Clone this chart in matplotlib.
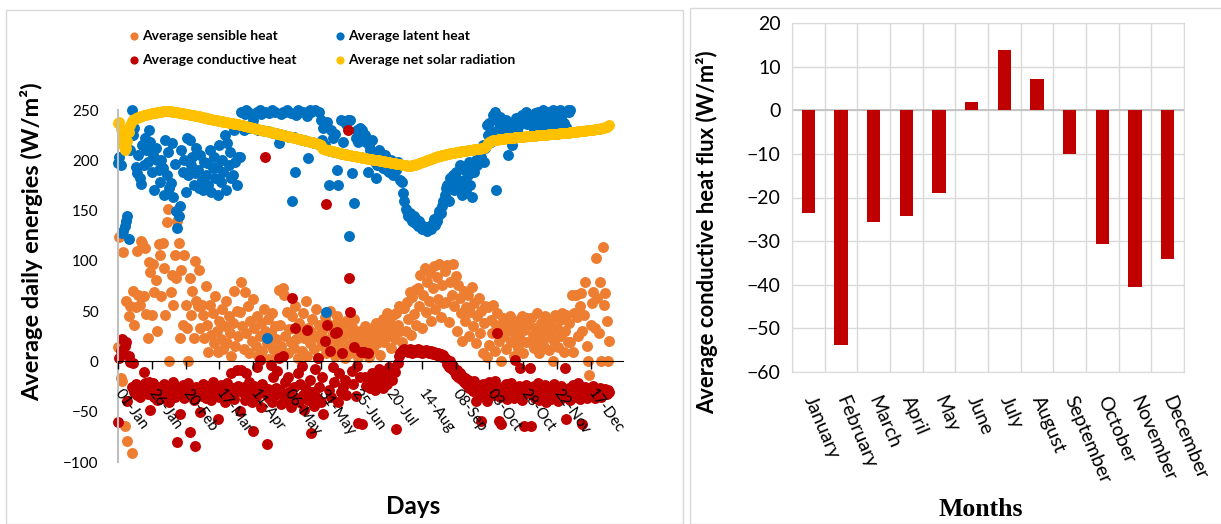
import matplotlib
matplotlib.use('Agg')
import matplotlib.pyplot as plt
from matplotlib.patches import Rectangle
import numpy as np

SANS = ['Lato', 'DejaVu Sans']
SERIF = ['Liberation Serif', 'DejaVu Serif']

ORANGE = '#ED7D31'
BLUE = '#0070C0'
RED = '#C00000'
YELLOW = '#FFC000'

# daily values (W/m2), one row per month, Jan..Dec
SENSIBLE = [
    14, 124, -16, -19, 109, -64, 60, -79, 45, 55, -91, 70, 36, 54, 110, 66, 56, 120, 118, 65, 113, 47, 23, 99, 89, 46, 97, 69, 81, 30, 117,
    106, 65, 118, 93, 46, 139, 152, 0, 69, 86, 56, 106, 83, 140, 118, 23, 91, 36, 106, 56, 33, 0, 83, 46, 70, 23, 100, 60,
    55, 91, 33, 56, 46, 23, 75, 36, 9, 56, 26, 48, 18, 65, 30, 9, 40, 22, 52, 12, 35, 60, 18, 45, 28, 5, 38, 70, 15, 50, 25,
    49, 79, 35, 12, 69, 28, 55, 8, 40, 20, 62, 33, 15, 45, 5, 25, 38, 10, 52, 30, 18, 42, 2, 28, 48, 12, 35, 22, 6, 71,
    36, 15, 73, 66, 25, 49, 8, 32, 19, 45, 13, 55, 22, 3, 38, 28, 10, 48, 23, 60, 5, 33, 18, 29, 42, 12, 25, 52, 3, 36, 20,
    30, 15, 44, 8, 38, 22, 50, 12, 28, 36, 5, 45, 18, 30, 10, 36, 24, 3, 40, 15, 28, 8, 34, 20, 42, 12, 26, 4, 30, 18,
    26, 8, 35, 15, 28, 4, 20, 33, 12, 24, 38, 18, 30, 6, 28, 42, 19, 35, 48, 25, 40, 13, 31, 46, 22, 48, 36, 55, 30, 19, 53,
    53, 30, 59, 42, 69, 26, 64, 47, 71, 36, 73, 55, 86, 33, 66, 93, 49, 79, 60, 88, 40, 73, 95, 52, 84, 62, 97, 44, 76, 58, 90,
    59, 96, 39, 79, 66, 97, 55, 85, 30, 76, 63, 48, 20, 70, 40, 54, 66, 25, 49, 74, 35, 58, 18, 45, 63, 28, 50, 8, 38, 55,
    4, 54, 16, 41, 28, 56, 10, 36, 48, 20, 33, 0, 43, 25, 12, 38, 30, 45, 19, 33, 5, 27, 40, 13, 36, 22, 45, 8, 31, 19, 43,
    36, 19, 43, 26, 13, 33, 48, 22, 8, 38, 29, 16, 45, 24, 35, 11, 40, 28, 0, 20, 46, 33, 14, 41, 25, 48, 9, 30, 46, 19,
    38, 19, 66, 9, 48, 66, 44, 25, 55, 68, 30, 46, 79, 15, 0, -13, 36, 58, 69, 33, 103, 63, 28, 79, 0, 114, 56, 68, 40, 0, 20,
]

LATENT = [
    197, 203, 195, 128, 130, 135, 140, 145, 122, 210, 250, 225, 232, 193, 187, 205, 182, 176, 215, 195, 222, 210, 198, 230, 218, 188, 205, 170, 212, 200, 190,
    178, 200, 192, 165, 220, 185, 208, 172, 177, 217, 163, 196, 150, 133, 145, 155, 210, 188, 200, 168, 222, 185, 220, 195, 203, 175, 187, 212,
    190, 172, 205, 180, 170, 198, 185, 197, 175, 210, 168, 192, 203, 182, 193, 165, 215, 178, 200, 188, 225, 170, 217, 195, 208, 182, 185, 230, 198, 175, 203,
    203, 248, 235, 230, 246, 250, 248, 233, 232, 245, 240, 233, 231, 248, 230, 250, 246, 230, 229, 248, 23, 229, 247, 228, 250, 227, 248, 227, 226, 217,
    226, 246, 248, 225, 248, 250, 224, 223, 247, 160, 223, 188, 245, 250, 221, 248, 220, 248, 220, 219, 244, 202, 250, 248, 218, 217, 250, 217, 216, 248, 240,
    220, 232, 215, 49, 238, 175, 209, 230, 222, 208, 226, 190, 175, 207, 240, 206, 218, 206, 236, 240, 125, 240, 187, 204, 158, 222, 230, 218, 232, 203,
    230, 222, 225, 218, 188, 215, 210, 220, 205, 198, 182, 195, 210, 208, 200, 192, 198, 205, 190, 195, 188, 200, 193, 185, 195, 190, 198, 195, 180, 178, 167,
    160, 152, 150, 145, 148, 143, 140, 145, 138, 142, 135, 140, 137, 132, 135, 132, 134, 130, 133, 135, 132, 138, 142, 136, 140, 145, 150, 148, 155, 160, 165,
    172, 175, 160, 182, 178, 185, 170, 188, 180, 175, 195, 168, 165, 180, 190, 170, 185, 198, 175, 163, 192, 188, 200, 195, 205, 210, 203, 215, 198, 212,
    235, 225, 237, 218, 228, 245, 248, 170, 240, 232, 243, 238, 228, 230, 240, 235, 205, 225, 232, 215, 230, 237, 242, 233, 225, 243, 245, 238, 240, 248, 236,
    240, 245, 238, 243, 230, 247, 236, 248, 240, 233, 244, 250, 238, 242, 235, 248, 230, 240, 250, 236, 228, 245, 238, 250, 241, 232, 237, 248, 233, 250,
    248, 250,
]

CONDUCTIVE = [
    -60, 3, 10, 22, 9, 15, 19, -39, 5, -1, -25, -2, -30, -22, -33, -28, -35, -24, -30, -11, -21, -27, -32, -20, -48, -30, -21, -35, -26, -38, -29,
    -25, -33, -28, -22, -37, -30, -24, -40, -27, -32, -20, -35, -29, -80, -26, -52, -31, -23, -36, -28, -33, -21, -70, -30, -27, -38, -84, -25,
    -30, -26, -50, -34, -22, -28, -36, -24, -31, -27, -38, -20, -33, -29, -25, -57, -35, -23, -30, -27, -40, -32, -21, -28, -34, -12, -26, -37, -29, -9, -24,
    -49, -9, -30, -25, -38, -12, -33, -20, -28, -40, -69, -24, -35, -6, -29, 1, -45, -22, -31, 203, -82, -27, -36, -4, -40, -15, -33, -26, -10, 3,
    -28, -42, 5, -35, -20, -38, -15, -30, -45, 63, -25, 33, -36, -12, -40, -22, -5, -33, -48, -27, 31, -38, -18, -71, -30, -44, -8, -35, 3, -25, -40,
    -15, -52, 20, 157, 36, -28, 10, -35, -6, -20, 28, 29, -40, -12, -30, 8, -25, -18, -33, 230, 83, 49, -10, -22, 14, -34, -5, -61, -15, 9,
    -62, 9, -15, -24, 8, -18, -26, -12, -22, -28, -17, -25, -8, -20, -14, -26, -20, -10, -22, -16, -6, -12, -18, -8, -11, -67, -2, 5, 8, 10, 11,
    12, 10, 11, 9, 12, 10, 8, 11, 9, 10, 12, 9, 11, 8, 10, 9, 11, 10, 8, 9, 10, 7, 9, 8, 6, 8, 5, 7, 4, 6, 3,
    2, -3, -6, 0, -8, -5, -10, -13, -9, -15, -12, -17, -14, -20, -16, -22, -18, -26, -21, -24, -29, -19, -39, -25, -28, -33, -59, -22, -30, -26,
    -39, -27, -20, -31, -24, -33, -19, -28, 28, -59, -35, -62, -25, -30, -22, -37, -27, -33, -21, -29, -36, 1, -26, -32, -24, -7, -38, -28, -64, -23, -31,
    -28, -7, -64, -33, -24, -36, -29, -21, -38, -26, -31, -35, -23, -40, -28, -33, -25, -37, -30, -22, -34, -27, -39, -31, -24, -36, -29, -7, -57, -33,
    -26, -38, -30, -23, -35, -28, -33, -21, -37, -29, -62, -32, -25, -36, -29, -34, -27, -31, -24, -36, -30, -28, -33, -26, -35, -29, -31, -27, -32, -28, -30,
]

NET_SOLAR = [
    237, 238, 231, 223, 215, 210, 212, 219, 228, 235, 239, 240, 241, 242, 242, 243, 243, 244, 244, 245, 245, 245, 246, 246, 246, 247, 247, 247, 247, 248, 248,
    248, 248, 249, 249, 249, 249, 249, 249, 249, 248, 248, 248, 248, 248, 247, 247, 247, 247, 246, 246, 246, 246, 245, 245, 245, 245, 244, 244,
    244, 244, 243, 243, 243, 242, 242, 242, 241, 241, 241, 240, 240, 240, 240, 239, 239, 239, 239, 238, 238, 238, 238, 237, 237, 237, 237, 236, 236, 236, 236,
    235, 235, 235, 234, 234, 234, 233, 233, 233, 232, 232, 232, 231, 231, 231, 230, 230, 230, 229, 229, 229, 229, 228, 228, 228, 227, 227, 227, 226, 226,
    226, 225, 225, 225, 224, 224, 224, 223, 223, 223, 222, 222, 222, 221, 221, 221, 220, 220, 220, 219, 219, 219, 218, 218, 218, 217, 217, 217, 216, 216, 215,
    212, 211, 211, 210, 210, 210, 209, 209, 209, 208, 208, 208, 207, 207, 207, 206, 206, 206, 205, 205, 205, 205, 204, 204, 204, 204, 203, 203, 203, 203,
    202, 202, 202, 202, 201, 201, 201, 201, 200, 200, 200, 200, 200, 199, 199, 199, 199, 198, 198, 198, 198, 197, 197, 197, 197, 196, 196, 196, 196, 195, 195,
    195, 195, 194, 194, 194, 194, 195, 195, 195, 196, 196, 197, 197, 198, 198, 199, 199, 200, 200, 201, 201, 202, 202, 203, 203, 204, 204, 204, 205, 205, 205,
    206, 206, 206, 207, 207, 207, 207, 208, 208, 208, 208, 209, 209, 209, 209, 209, 210, 210, 210, 210, 210, 211, 211, 211, 211, 211, 212, 212, 212, 213,
    215, 217, 218, 219, 219, 220, 220, 220, 220, 221, 221, 221, 221, 221, 222, 222, 222, 222, 222, 222, 222, 223, 223, 223, 223, 223, 223, 223, 223, 224, 224,
    224, 224, 224, 224, 224, 224, 225, 225, 225, 225, 225, 225, 225, 225, 225, 226, 226, 226, 226, 226, 226, 226, 226, 227, 227, 227, 227, 227, 227, 227,
    227, 228, 228, 228, 228, 228, 228, 229, 229, 229, 229, 229, 229, 230, 230, 230, 230, 230, 230, 231, 231, 231, 231, 231, 232, 232, 232, 233, 233, 234, 235,
]

DAY_TICKS = [0, 25, 50, 75, 100, 125, 150, 175, 200, 225, 250, 275, 300, 325, 350]
DAY_LABELS = ['01-Jan', '26-Jan', '20-Feb', '17-Mar', '11-Apr', '06-May', '31-May',
              '25-Jun', '20-Jul', '14-Aug', '08-Sep', '03-Oct', '28-Oct', '22-Nov', '17-Dec']

MONTHS = ['January', 'February', 'March', 'April', 'May', 'June', 'July',
          'August', 'September', 'October', 'November', 'December']
MONTHLY_COND = [-23.5, -53.7, -25.7, -24.2, -19.0, 2.0, 13.7, 7.2, -10.1, -30.6, -40.5, -34.0]


def plot_daily(fig, ax):
    # axis through y=0 first: moving the spine resets the tick labels
    for s in ('top', 'right'):
        ax.spines[s].set_visible(False)
    ax.spines['bottom'].set_position(('data', 0))
    ax.spines['bottom'].set_color('black')
    ax.spines['left'].set_color('#bfbfbf')
    ax.spines['left'].set_linewidth(1.5)
    ax.set_axisbelow(False)

    series = [
        ('Average sensible heat', SENSIBLE, ORANGE),
        ('Average latent heat', LATENT, BLUE),
        ('Average conductive heat', CONDUCTIVE, RED),
        ('Average net solar radiation', NET_SOLAR, YELLOW),
    ]
    handles = {}
    for z, (name, vals, col) in enumerate(series):
        days = np.arange(len(vals))
        handles[name] = ax.scatter(days, vals, s=62, color=col, linewidths=0,
                                   zorder=1 + 0.1 * z, clip_on=False, label=name)

    ax.set_xlim(0, 374)
    ax.set_ylim(-100, 250)
    ax.set_yticks(np.arange(-100, 251, 50))
    ax.set_xticks(DAY_TICKS)
    ax.set_xticklabels(DAY_LABELS, rotation=-54, ha='left', va='center',
                       rotation_mode='anchor', fontsize=11, family=SANS)
    ax.tick_params(axis='x', direction='out', length=6, width=1, pad=15)
    ax.tick_params(axis='y', length=0, pad=14, labelsize=11)
    for t in ax.get_yticklabels():
        t.set_family(SANS)

    ax.set_ylabel('Average daily energies (W/m²)', fontsize=16.9, fontweight='bold', family=SANS)
    ax.yaxis.set_label_coords(-0.149, 0.625)
    fig.text(0.338, 0.033, 'Days', fontsize=17.5, fontweight='bold', family=SANS, ha='center', va='center')

    order = ['Average sensible heat', 'Average conductive heat',
             'Average latent heat', 'Average net solar radiation']
    fig.legend([handles[k] for k in order], order, ncol=2, frameon=False,
               loc='upper left', bbox_to_anchor=(0.094, 0.967), markerscale=0.75,
               handlelength=0.9, handletextpad=0.15, columnspacing=2.7, labelspacing=0.85,
               prop={'family': SANS, 'weight': 'bold', 'size': 10})


def plot_monthly(fig, ax):
    x = np.arange(len(MONTHS))
    ax.bar(x, MONTHLY_COND, width=0.4, color=RED, zorder=3)
    ax.set_xlim(-0.5, len(MONTHS) - 0.5)
    ax.set_ylim(-60, 20)
    ax.set_yticks(np.arange(-60, 21, 10))
    ax.set_xticks(x)
    ax.set_xticklabels(MONTHS, rotation=-67, ha='left', va='center',
                       rotation_mode='anchor', fontsize=14, family=SANS)
    ax.set_xticks(np.arange(-0.5, len(MONTHS)), minor=True)
    ax.grid(True, which='minor', axis='x', color='#d9d9d9', lw=1, zorder=0)
    ax.grid(True, which='major', axis='y', color='#d9d9d9', lw=1, zorder=0)
    ax.axhline(0, color='#bfbfbf', lw=1.2, zorder=2)
    ax.tick_params(axis='both', which='both', length=0)
    ax.tick_params(axis='x', pad=18)
    ax.tick_params(axis='y', labelsize=14, pad=8)
    for t in ax.get_yticklabels():
        t.set_family(SANS)
    for s in ax.spines.values():
        s.set_color('#d9d9d9')

    ax.set_ylabel('Average conductive heat flux (W/m²)', fontsize=15.8, fontweight='bold', family=SANS)
    ax.yaxis.set_label_coords(-0.189, 0.401)
    fig.text(0.803, 0.027, 'Months', fontsize=18.5, fontweight='bold', family=SERIF, ha='center', va='center')


def main():
    fig = plt.figure(figsize=(12.21, 5.24), dpi=100)
    fig.patches.append(Rectangle((6 / 1221, 0), 677 / 1221, 514 / 524, transform=fig.transFigure,
                                 fill=False, edgecolor='#d9d9d9', lw=1))
    fig.patches.append(Rectangle((690 / 1221, 0), 540 / 1221, 516 / 524, transform=fig.transFigure,
                                 fill=False, edgecolor='#d9d9d9', lw=1))

    ax1 = fig.add_axes([118 / 1221, 62 / 524, 505 / 1221, 352 / 524])
    plot_daily(fig, ax1)

    ax2 = fig.add_axes([792 / 1221, 152 / 524, 392 / 1221, 349 / 524])
    plot_monthly(fig, ax2)

    fig.savefig('out.png', dpi=100)


if __name__ == '__main__':
    main()
